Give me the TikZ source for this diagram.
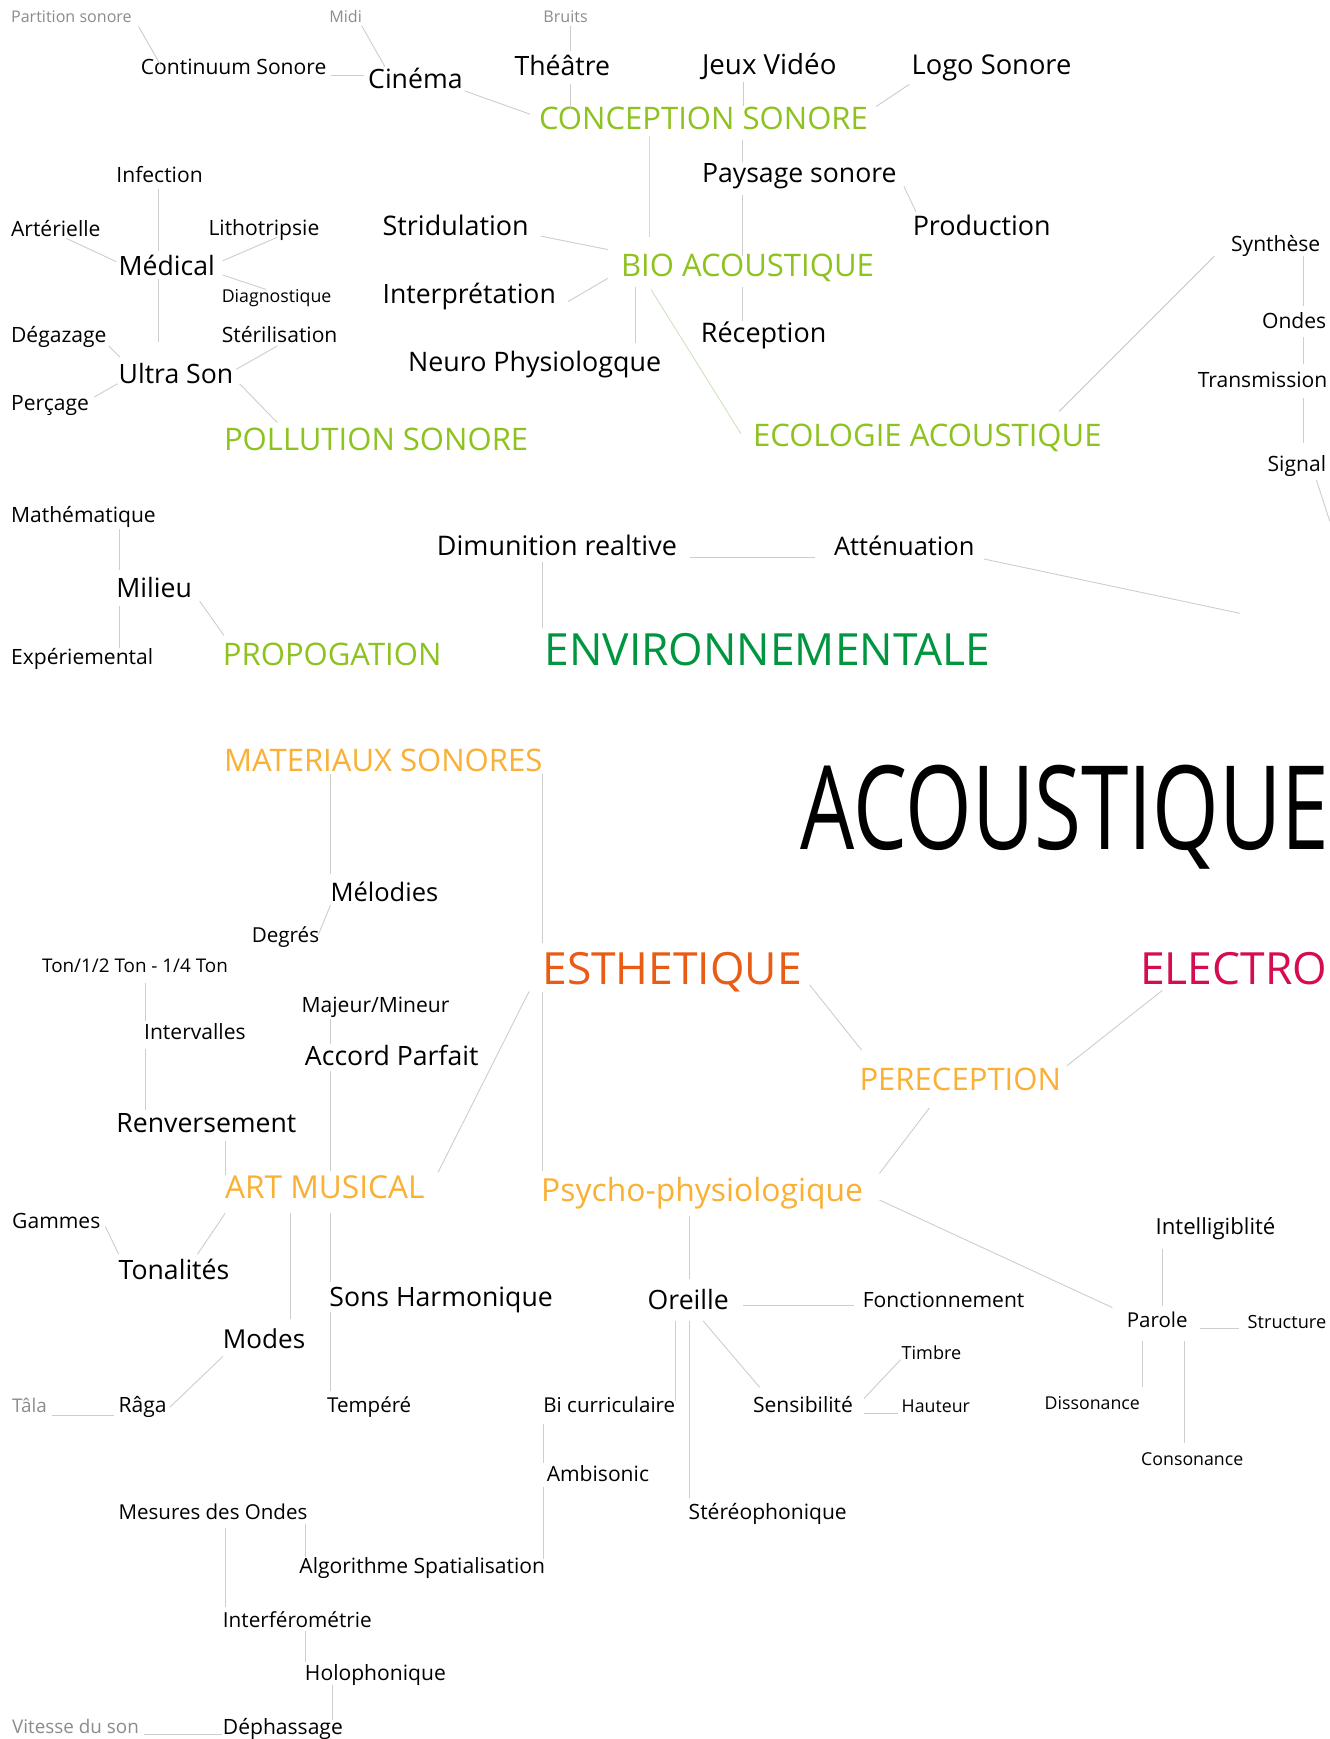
\documentclass[tikz,border=0pt]{standalone}
\usepackage{fontspec}
\setmainfont{Open Sans}
\newfontfamily\condfont[FakeStretch=0.735]{Open Sans}
\definecolor{soundgreen}{RGB}{141,194,31}
\definecolor{envgreen}{RGB}{0,150,64}
\definecolor{artorange}{RGB}{249,176,52}
\definecolor{esthorange}{RGB}{232,92,22}
\definecolor{electrored}{RGB}{214,12,83}
\definecolor{hintgrey}{RGB}{140,140,140}
\definecolor{linkgrey}{RGB}{205,205,205}
\definecolor{linkgreen}{RGB}{205,228,190}
\tikzstyle{term}=[inner sep=0pt,outer sep=0pt,anchor=base west,text=black,yshift=-1pt]
\tikzstyle{link}=[draw=linkgrey,line width=0.8pt]
\tikzstyle{greenlink}=[draw=linkgreen,line width=0.8pt]
\tikzset{fsize/.style={font=\fontsize{#1}{#1}\selectfont}}
\tikzstyle{hint}=[fsize=14.5,text=hintgrey]
\tikzstyle{small}=[fsize=19]
\tikzstyle{mid}=[fsize=24]
\tikzstyle{big}=[fsize=28]
\tikzstyle{huge}=[fsize=40]
\newcommand{\newTerm}[4]{\node[term,#3] (#1) at (#4) {#2};}
\newcommand{\newLink}[5][link]{\draw[#1] ([shift={(#3)}]#2.base west) -- ([shift={(#5)}]#4.base west);}

\begin{document}
\begin{tikzpicture}[x=1pt,y=-1pt]
      \fill[white] (0,0) rectangle (1199,1568);
      \useasboundingbox (0,0) rectangle (1199,1568);
      % conception sonore
      \newTerm{partition}{Partition sonore}{hint}{10,19}
      \newTerm{midi}{Midi}{hint}{297,19}
      \newTerm{bruits}{Bruits}{hint}{490,19}
      \newTerm{continuum}{Continuum Sonore}{small}{127,66}
      \newTerm{cinema}{Cinéma}{mid}{332,79}
      \newTerm{theatre}{Théâtre}{mid}{464,67}
      \newTerm{jeux}{Jeux Vidéo}{fsize=25}{633,66}
      \newTerm{logo}{Logo Sonore}{fsize=24.6}{822,66}
      \newTerm{conception}{CONCEPTION SONORE}{big,text=soundgreen}{486,116}
      \newTerm{paysage}{Paysage sonore}{mid}{633,164}
      \newTerm{production}{Production}{fsize=24.3}{823,211}
      % bio acoustique
      \newTerm{stridulation}{Stridulation}{fsize=24.3}{345,211}
      \newTerm{bio}{BIO ACOUSTIQUE}{big,text=soundgreen}{560,248}
      \newTerm{interpretation}{Interprétation}{mid}{345,273}
      \newTerm{reception}{Réception}{fsize=24.3}{632,308}
      \newTerm{neuro}{Neuro Physiologque}{fsize=24.2}{368,334}
      \newTerm{ecologie}{ECOLOGIE ACOUSTIQUE}{big,text=soundgreen}{679,402}
      \newTerm{synthese}{Synthèse}{small}{1110,226}
      \newTerm{ondes}{Ondes}{small}{1138,295}
      \newTerm{transmission}{Transmission}{small}{1080,348}
      \newTerm{signal}{Signal}{small}{1143,424}
      \coordinate (signalEnd) at (1199,470);
      % pollution sonore
      \newTerm{infection}{Infection}{small}{105,164}
      \newTerm{arterielle}{Artérielle}{small}{10,212}
      \newTerm{lithotripsie}{Lithotripsie}{small}{188,211}
      \newTerm{medical}{Médical}{mid}{107,247}
      \newTerm{diagnostique}{Diagnostique}{fsize=16}{200,272}
      \newTerm{degazage}{Dégazage}{small}{10,308}
      \newTerm{sterilisation}{Stérilisation}{small}{200,308}
      \newTerm{ultrason}{Ultra Son}{mid}{107,345}
      \newTerm{percage}{Perçage}{small}{10,369}
      \newTerm{pollution}{POLLUTION SONORE}{big,text=soundgreen}{202,405}
      % environnementale
      \newTerm{mathematique}{Mathématique}{small}{10,470}
      \newTerm{milieu}{Milieu}{mid}{105,538}
      \newTerm{experiemental}{Expériemental}{small}{10,598}
      \newTerm{propogation}{PROPOGATION}{big,text=soundgreen}{201,599}
      \newTerm{dimunition}{Dimunition realtive}{fsize=24.3}{394,500}
      \newTerm{attenuation}{Atténuation}{fsize=23}{752,500}
      \coordinate (attEnd) at (1118,553);
      \newTerm{environ}{ENVIRONNEMENTALE}{huge,text=envgreen}{491,599}
      \node[term,font=\condfont\fontsize{105}{105}\selectfont] (acoustique) at (722,765) {ACOUSTIQUE};
      % esthetique
      \newTerm{materiaux}{MATERIAUX SONORES}{big,text=artorange}{202,695}
      \newTerm{melodies}{Mélodies}{fsize=23}{298,812}
      \newTerm{degres}{Degrés}{fsize=18.6}{227,849}
      \newTerm{ton}{Ton/1/2 Ton - 1/4 Ton}{fsize=17}{38,876}
      \newTerm{esthetique}{ESTHETIQUE}{huge,text=esthorange}{489,887}
      \newTerm{electro}{ELECTRO}{huge,text=electrored}{1028,887}
      \newTerm{majeur}{Majeur/Mineur}{small}{272,912}
      \newTerm{intervalles}{Intervalles}{small}{130,936}
      \newTerm{accord}{Accord Parfait}{mid}{275,960}
      \newTerm{perception}{PERECEPTION}{big,text=artorange}{775,982}
      \newTerm{renversement}{Renversement}{mid}{105,1020}
      \newTerm{artmusical}{ART MUSICAL}{fsize=28.5,text=artorange}{203,1080}
      \newTerm{psycho}{Psycho-physiologique}{fsize=28.7,text=artorange}{488,1082}
      \newTerm{gammes}{Gammes}{small}{11,1107}
      \newTerm{tonalites}{Tonalités}{mid}{107,1153}
      \newTerm{sons}{Sons Harmonique}{mid}{297,1177}
      \newTerm{modes}{Modes}{fsize=23.5}{201,1215}
      \newTerm{tala}{Tâla}{hint,fsize=17}{11,1273}
      \newTerm{raga}{Râga}{small}{107,1273}
      \newTerm{tempere}{Tempéré}{fsize=18.5}{295,1273}
      % psycho-physiologique
      \newTerm{intelligiblite}{Intelligiblité}{fsize=20}{1042,1112}
      \newTerm{oreille}{Oreille}{mid}{584,1180}
      \newTerm{fonctionnement}{Fonctionnement}{small}{778,1178}
      \newTerm{parole}{Parole}{fsize=18.5}{1016,1196}
      \newTerm{structure}{Structure}{fsize=16.4}{1125,1197}
      \newTerm{timbre}{Timbre}{fsize=16.3}{813,1225}
      \newTerm{bicurriculaire}{Bi curriculaire}{fsize=18.5}{490,1273}
      \newTerm{sensibilite}{Sensibilité}{small}{679,1273}
      \newTerm{hauteur}{Hauteur}{fsize=16}{813,1273}
      \newTerm{dissonance}{Dissonance}{fsize=16}{942,1270}
      \newTerm{consonance}{Consonance}{fsize=16}{1029,1320}
      \newTerm{ambisonic}{Ambisonic}{small}{493,1335}
      \newTerm{stereophonique}{Stéréophonique}{small}{621,1369}
      \newTerm{mesures}{Mesures des Ondes}{fsize=18.5}{107,1369}
      \newTerm{algorithme}{Algorithme Spatialisation}{small}{270,1418}
      \newTerm{interferometrie}{Interférométrie}{fsize=18.7}{201,1466}
      \newTerm{holophonique}{Holophonique}{small}{275,1514}
      \newTerm{vitesse}{Vitesse du son}{hint,fsize=17}{11,1562}
      \newTerm{dephassage}{Déphassage}{small}{201,1563}

      \newLink{partition}{115,4}{continuum}{18,-8}
      \newLink{continuum}{171,1}{cinema}{-4,-12}
      \newLink{midi}{29,3}{cinema}{15,-20}
      \newLink{cinema}{87,2}{conception}{-8,-14}
      \newLink{bruits}{24,3}{theatre}{50,-22}
      \newLink{theatre}{50,8}{conception}{28,-19}
      \newLink{jeux}{37,7}{conception}{184,-21}
      \newLink{logo}{-2,9}{conception}{304,-21}
      \newLink[greenlink]{conception}{100,6}{bio}{26,-35}
      \newLink{conception}{183,9}{paysage}{36,-19}
      \newLink{paysage}{36,11}{bio}{109,-18}
      \newLink{bio}{109,10}{reception}{37,-20}
      \newLink{paysage}{182,3}{production}{3,-21}
      \newLink{stridulation}{143,1}{bio}{-12,-24}
      \newLink{interpretation}{167,-2}{bio}{-12,2}
      \newLink{bio}{13,10}{neuro}{205,-26}
      \newLink[greenlink]{bio}{27,12}{ecologie}{-11,-12}
      \newLink{ecologie}{276,-32}{synthese}{-15,4}
      \newLink{synthese}{65,4}{ondes}{37,-20}
      \newLink{ondes}{37,8}{transmission}{95,-21}
      \newLink{transmission}{95,10}{signal}{32,-26}
      \draw[link] ([shift={(44,8)}]signal.base west) -- (signalEnd);
      \newLink{infection}{38,5}{medical}{36,-22}
      \newLink{medical}{36,4}{ultrason}{36,-38}
      \newLink{arterielle}{50,2}{medical}{-2,-12}
      \newLink{medical}{94,-13}{lithotripsie}{62,2}
      \newLink{medical}{94,0}{diagnostique}{40,-12}
      \newLink{degazage}{88,3}{ultrason}{1,-24}
      \newLink{ultrason}{106,-13}{sterilisation}{50,3}
      \newLink{ultrason}{-1,0}{percage}{75,-12}
      \newLink{ultrason}{109,0}{pollution}{48,-25}
      \newLink{mathematique}{98,6}{milieu}{3,-25}
      \newLink{milieu}{3,7}{experiemental}{98,-15}
      \newLink{milieu}{75,3}{propogation}{1,-27}
      \newLink{dimunition}{95,6}{environ}{-2,-34}
      \newLink{dimunition}{228,2}{attenuation}{-17,2}
      \draw[link] ([shift={(135,3)}]attenuation.base west) -- (attEnd);
      \newLink{materiaux}{96,2}{melodies}{0,-25}
      \newLink{materiaux}{287,2}{esthetique}{0,-38}
      \newLink{melodies}{0,3}{degres}{60,-7}
      \newLink{ton}{93,9}{intervalles}{1,-16}
      \newLink{intervalles}{1,9}{renversement}{26,-20}
      \newLink{majeur}{26,6}{accord}{23,-20}
      \newLink{accord}{23,5}{artmusical}{95,-25}
      \newLink{renversement}{98,8}{artmusical}{0,-22}
      \newLink{esthetique}{-12,6}{artmusical}{192,-24}
      \newLink{esthetique}{0,6}{psycho}{1,-27}
      \newLink{esthetique}{241,0}{perception}{2,-36}
      \newLink{electro}{20,5}{perception}{187,-22}
      \newLink{perception}{63,16}{psycho}{305,-25}
      \newLink{psycho}{305,-1}{parole}{-13,-18}
      \newLink{psycho}{134,13}{oreille}{38,-28}
      \newLink{artmusical}{0,13}{tonalites}{71,-23}
      \newLink{gammes}{84,-2}{tonalites}{0,-23}
      \newLink{artmusical}{59,13}{modes}{61,-27}
      \newLink{artmusical}{95,13}{sons}{1,-22}
      \newLink{sons}{1,5}{tempere}{3,-20}
      \newLink{modes}{0,7}{raga}{46,-5}
      \newLink{tala}{36,2}{raga}{-4,2}
      \newLink{oreille}{86,-4}{fonctionnement}{-8,-2}
      \newLink{oreille}{25,10}{bicurriculaire}{119,-11}
      \newLink{oreille}{38,10}{stereophonique}{1,-19}
      \newLink{oreille}{50,10}{sensibilite}{6,-23}
      \newLink{sensibilite}{100,-13}{timbre}{-1,0}
      \newLink{sensibilite}{100,0}{hauteur}{-3,0}
      \newLink{intelligiblite}{6,13}{parole}{32,-19}
      \newLink{parole}{66,1}{structure}{-8,0}
      \newLink{parole}{14,12}{dissonance}{88,-20}
      \newLink{parole}{52,12}{consonance}{39,-20}
      \newLink{bicurriculaire}{0,10}{ambisonic}{-3,-17}
      \newLink{ambisonic}{-3,5}{algorithme}{220,-13}
      \newLink{mesures}{168,4}{algorithme}{5,-15}
      \newLink{mesures}{96,8}{interferometrie}{2,-18}
      \newLink{interferometrie}{74,4}{holophonique}{0,-16}
      \newLink{holophonique}{25,4}{dephassage}{99,-13}
      \newLink{vitesse}{119,1}{dephassage}{-1,0}
    \end{tikzpicture}
\end{document}
